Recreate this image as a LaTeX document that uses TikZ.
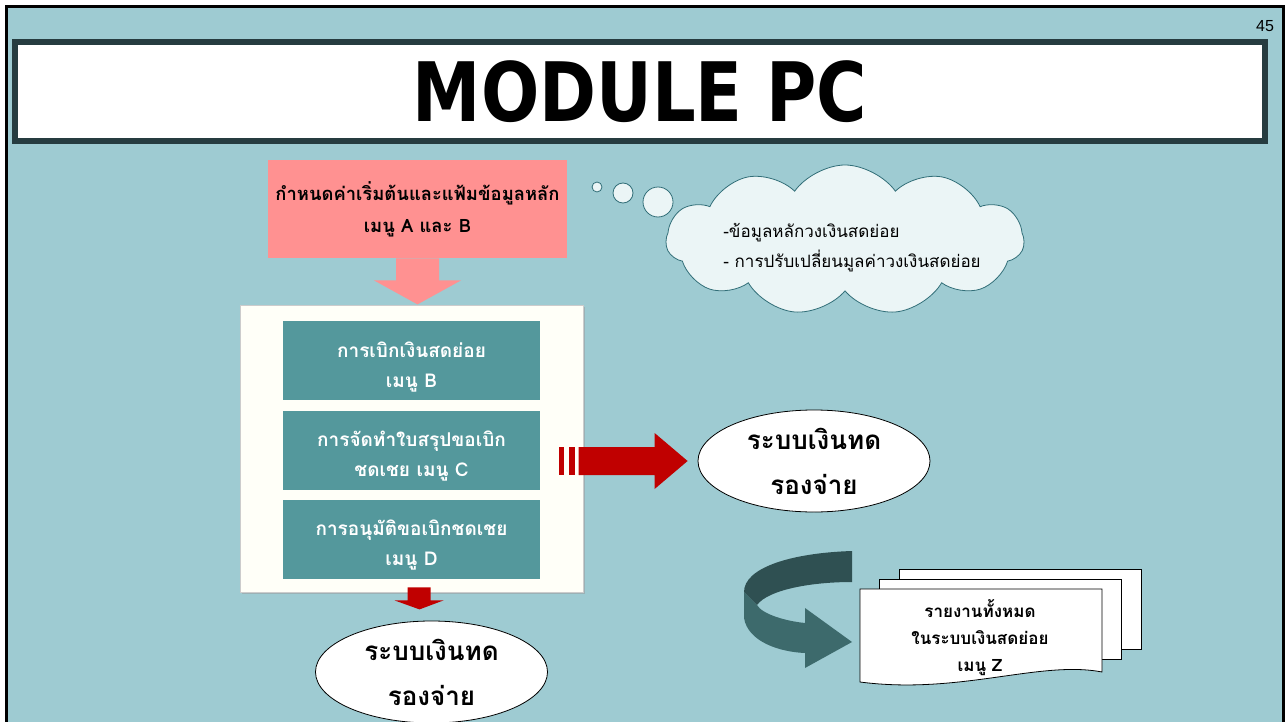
\documentclass[tikz,border=0pt]{standalone}
\usepackage{graphicx}
\usepackage{fontspec}
\setmainfont{Liberation Sans}
\newfontfamily\thaifont[Script=Thai]{Loma}
\newfontfamily\titlefont{DejaVu Sans Condensed}
\usetikzlibrary{positioning, shapes.geometric, shapes.symbols, shadows}
\definecolor{slidebg}{RGB}{158, 203, 210}
\definecolor{titleline}{RGB}{38, 60, 64}
\definecolor{pinkfill}{RGB}{255, 145, 145}
\definecolor{panelfill}{RGB}{255, 255, 248}
\definecolor{tealfill}{RGB}{84, 152, 156}
\definecolor{redfill}{RGB}{192, 0, 0}
\definecolor{cloudfill}{RGB}{235, 245, 246}
\definecolor{cloudline}{RGB}{49, 110, 120}
\definecolor{swirldark}{RGB}{47, 80, 82}
\definecolor{swirllight}{RGB}{61, 106, 108}
\newcommand{\menustrut}{\rule{0pt}{14pt}}

\begin{document}
\begin{tikzpicture}[
    x=0.5pt, y=-0.5pt,
    node distance=5pt and 5pt,
    every node/.style={align=center, font=\thaifont},
    titlebox/.style={rectangle, draw=titleline, line width=3pt, fill=white, minimum width=625pt, minimum height=49.5pt},
    startbox/.style={rectangle, fill=pinkfill, minimum width=149.5pt, minimum height=49pt, font=\thaifont\bfseries\fontsize{9.2}{16}\selectfont},
    panelbox/.style={rectangle, draw=gray!40, fill=panelfill, minimum width=171.5pt, minimum height=143.5pt, drop shadow={shadow xshift=1pt, shadow yshift=-1pt, fill=gray!80}},
    menubox/.style={rectangle, fill=tealfill, text=white, minimum width=128.5pt, minimum height=39.5pt, inner ysep=1pt, font=\thaifont\bfseries\fontsize{9.5}{15}\selectfont},
    sysoval/.style={ellipse, draw, thin, fill=white, minimum width=116pt, minimum height=51pt, inner sep=0pt, font=\thaifont\bfseries\fontsize{13}{22.5}\selectfont},
    thought/.style={cloud, cloud puffs=11, cloud puff arc=110, draw=cloudline, thin, fill=cloudfill, minimum width=179pt, minimum height=75pt, inner sep=0pt},
    bubble/.style={circle, draw=cloudline, thin, fill=cloudfill, inner sep=0pt},
    paper/.style={rectangle, draw, thin, fill=white, minimum width=121pt, minimum height=40pt},
    blockarrow/.style={fill=redfill}
]

% Slide
\useasboundingbox[fill=white] (0,0) rectangle (1285,722);
\draw[line width=1.5pt, fill=slidebg] (6.5,6.5) rectangle (1283.5,730);
\node (pagenum) at (1265,26) {\fontsize{8}{8}\selectfont\rmfamily 45};
\node[titlebox] (title) at (640,91.5) {\scalebox{0.93}[1]{\titlefont\bfseries\fontsize{41}{41}\selectfont MODULE PC}};

% Nodes
\node[startbox] (setup) at (417.5,209) {กำหนดค่าเริ่มต้นและแฟ้มข้อมูลหลัก\\เมนู A และ B};
\node[panelbox] (panel) at (411.5,448.5) {};
\node[menubox] (withdraw) at (411.5,360.5) {\menustrut การเบิกเงินสดย่อย\\เมนู B};
\node[menubox, below=of withdraw] (summary) {\menustrut การจัดทำใบสรุปขอเบิก\\ชดเชย เมนู C};
\node[menubox, below=4.5pt of summary] (approve) {\menustrut การอนุมัติขอเบิกชดเชย\\เมนู D};
\node[sysoval] (sysright) at (814,461) {ระบบเงินทด\\รองจ่าย};
\node[sysoval] (sysbottom) at (431.5,672) {ระบบเงินทด\\รองจ่าย};
\node[thought] (note) at (845,240) {};
\node[align=left, font=\thaifont\fontsize{8.5}{15}\selectfont] (notetext) at (852,248) {-ข้อมูลหลักวงเงินสดย่อย\\- การปรับเปลี่ยนมูลค่าวงเงินสดย่อย};
\node[bubble, minimum size=5pt] (bubA) at (597,187) {};
\node[bubble, minimum size=10pt] (bubB) at (623,193) {};
\node[bubble, minimum size=15pt] (bubC) at (658,202) {};

% Report pages
\node[paper] (pageback) at (1020,609) {};
\node[paper] (pagemid) at (1000.5,619) {};
\draw[thin, fill=white] (860,589) -- (1102,589) -- (1102,672)
    .. controls (1040,660) and (960,695) .. (860,682) -- cycle;
\node[font=\thaifont\bfseries\fontsize{8.5}{13.5}\selectfont] (report) at (980,638) {รายงานทั้งหมด\\ในระบบเงินสดย่อย\\เมนู Z};

% Swirl arrow
\fill[swirllight] (744,592) -- (744,618) .. controls (748,642) and (780,652) .. (805,653)
    -- (805,668) -- (852,642) -- (805,608) -- (805,623)
    .. controls (785,621) and (762,614) .. (757,605) -- cycle;
\fill[swirldark] (852,551) .. controls (790,553) and (744,568) .. (744,592)
    -- (757,605) .. controls (768,590) and (810,582) .. (852,582) -- cycle;

% Connections
\fill[pinkfill] ([xshift=-10.75pt]setup.south) -- ++(0,22) -- ++(-22,0) -- ++(43.5,24)
    -- ++(43.5,-24) -- ++(-22,0) -- ++(0,-22) -- cycle;
\coordinate (tipright) at ([xshift=-5pt]sysright.west);
\fill[blockarrow] (tipright) -- ++(-33,-28) -- ++(0,14) -- ++(-76,0) -- ++(0,28)
    -- ++(76,0) -- ++(0,14) -- cycle;
\fill[blockarrow] (tipright) ++(-119,-14) rectangle ++(6,28);
\fill[blockarrow] (tipright) ++(-129,-14) rectangle ++(5,28);
\coordinate (tipdown) at ([xshift=4pt, yshift=-8.5pt]panel.south);
\fill[blockarrow] (tipdown) -- ++(-25,-9) -- ++(13,0) -- ++(0,-13) -- ++(23,0) -- ++(0,13)
    -- ++(13,0) -- cycle;

\end{tikzpicture}
\end{document}
